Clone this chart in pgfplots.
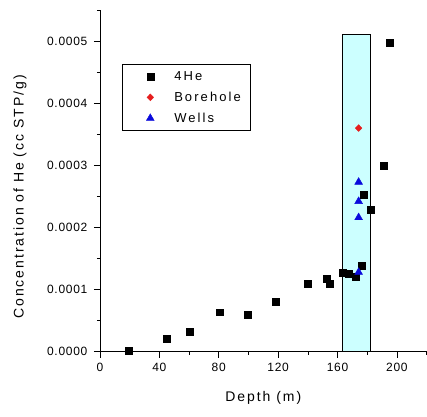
\documentclass[border=0pt]{standalone}
\usepackage{pgfplots}
\pgfplotsset{compat=1.18}
\usepackage{fontspec}
\setmainfont{Liberation Sans}
\newfontfamily\tickfont[LetterSpace=6]{Liberation Sans}
\newfontfamily\labfont[LetterSpace=14]{Liberation Sans}
\newfontfamily\legfont[LetterSpace=16]{Liberation Sans}
\definecolor{bandcyan}{RGB}{204,255,255}
\definecolor{mred}{RGB}{230,30,30}
\definecolor{mblue}{RGB}{10,10,220}

\begin{document}
\begin{tikzpicture}
\begin{axis}[
    name=ax,
    scale only axis,
    width=327pt, height=342pt,
    xmin=0, xmax=220,
    ymin=0, ymax=0.00055,
    axis x line*=bottom,
    axis y line*=left,
    axis line style={-, line width=0.7pt},
    tick align=outside,
    tick style={black, line width=0.6pt},
    major tick length=6pt,
    minor tick length=3pt,
    xtick={0,40,80,120,160,200},
    minor xtick={20,60,100,140,180,220},
    ytick={0,0.0001,0.0002,0.0003,0.0004,0.0005},
    minor ytick={0.00005,0.00015,0.00025,0.00035,0.00045,0.00055},
    scaled y ticks=false,
    yticklabel style={/pgf/number format/fixed, /pgf/number format/fixed zerofill,
        /pgf/number format/precision=4, anchor=east, xshift=-3pt},
    xticklabel style={yshift=-2pt},
    /pgf/number format/assume math mode=true,
    ticklabel style={font=\tickfont\fontsize{12}{14}\selectfont},
    xlabel={Depth (m)},
    ylabel={Concentration of He (cc STP/g)},
    label style={font=\labfont\fontsize{14}{16}\selectfont},
    xlabel style={at={(rel axis cs:0.5,0)}, anchor=center, yshift=-46pt},
    ylabel style={at={(rel axis cs:0,0.453)}, anchor=center, yshift=80pt},
    legend style={at={(rel axis cs:0.067,0.842)}, anchor=north west,
        font=\legfont\fontsize{13}{14}\selectfont, draw=black, line width=1pt,
        inner xsep=8pt, inner ysep=5pt, row sep=6pt},
    legend cell align=left,
    legend image code/.code={
        \path[draw=none, fill=none] (0pt,-1pt) rectangle (42pt,1pt);
        \draw[#1, line width=0.4pt] plot[only marks] coordinates {(20pt,0pt)};
    },
]
\addplot[fill=bandcyan, draw=black, line width=0.7pt, forget plot] coordinates {
    (163.2,0) (163.2,0.000511) (182.3,0.000511) (182.3,0) } \closedcycle;

\addplot[only marks, mark=square*, mark size=3.5pt, black] coordinates {
    (19.5,0.000001) (44.9,0.000021) (60.2,0.000032) (80.4,0.0000636)
    (99.4,0.0000593) (118.3,0.0000806) (139.8,0.000109) (152.6,0.000118)
    (154.4,0.000109) (163.2,0.000127) (167.2,0.000125) (172.1,0.000121)
    (176.2,0.000138) (177.3,0.000252) (182.3,0.000228) (191.2,0.0003)
    (195.3,0.000497)
};
\addlegendentry{4He}

\addplot[only marks, mark=diamond*, mark size=3.4pt, mark options={xscale=1.3}, mred] coordinates {
    (174.2,0.00036)
};
\addlegendentry{Borehole}

\addplot[only marks, mark=triangle*, mark size=4.5pt, mblue] coordinates {
    (174.2,0.000273) (174.2,0.000242) (174.2,0.000216) (174.2,0.000128)
};
\addlegendentry{Wells}
\end{axis}
\path (ax.south west) ++(-100pt,-65pt) rectangle ++(427pt,417pt);
\end{tikzpicture}
\end{document}
